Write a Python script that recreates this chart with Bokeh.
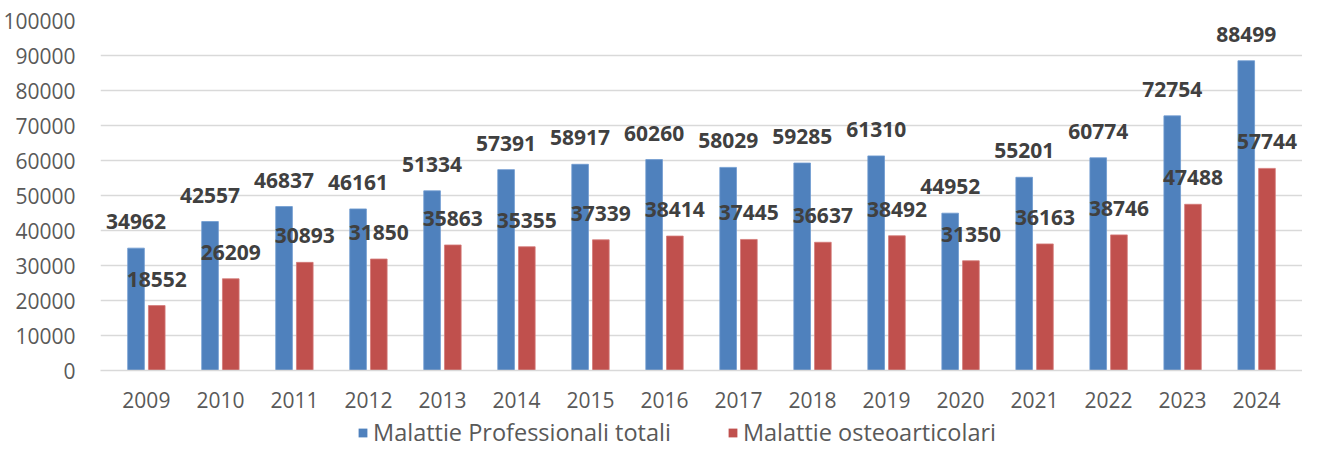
from bokeh.plotting import figure
from bokeh.layouts import column
from bokeh.models import (ColumnDataSource, FactorRange, Range1d, FixedTicker,
                          LabelSet, Legend, LegendItem, NumeralTickFormatter)
from bokeh.transform import dodge
from bokeh.core.properties import value
from bokeh.embed import file_html
from bokeh.resources import INLINE

years = ["2009", "2010", "2011", "2012", "2013", "2014", "2015", "2016",
         "2017", "2018", "2019", "2020", "2021", "2022", "2023", "2024"]
totali = [34962, 42557, 46837, 46161, 51334, 57391, 58917, 60260,
          58029, 59285, 61310, 44952, 55201, 60774, 72754, 88499]
osteo = [18552, 26209, 30893, 31850, 35863, 35355, 37339, 38414,
         37445, 36637, 38492, 31350, 36163, 38746, 47488, 57744]
y_ticks = [0, 10000, 20000, 30000, 40000, 50000, 60000, 70000, 80000, 90000, 100000]
series_names = ["Malattie Professionali totali", "Malattie osteoarticolari"]

BLUE = "#4F81BD"
RED = "#C0504D"
FONT = "Open Sans"

src = ColumnDataSource(dict(
    year=years, tot=totali, ost=osteo,
    tot_s=[str(v) for v in totali], ost_s=[str(v) for v in osteo],
))

p = figure(width=1302, height=416, output_backend="svg", toolbar_location=None,
           x_range=FactorRange(factors=years, range_padding=0.12,
                               range_padding_units="absolute"),
           y_range=Range1d(0, 100000),
           min_border_left=100, min_border_right=0, min_border_top=20,
           min_border_bottom=46)
p.outline_line_color = None
p.background_fill_color = "white"
p.border_fill_color = "white"

off = 0.14
bw = 0.225
r1 = p.vbar(x=dodge("year", -off, range=p.x_range), top="tot", width=bw,
            source=src, fill_color=BLUE, line_color="#6E9AD0", line_width=0.8)
r2 = p.vbar(x=dodge("year", off, range=p.x_range), top="ost", width=bw,
            source=src, fill_color=RED, line_color="#D47A78", line_width=0.8)

for col, txt, o in (("tot", "tot_s", -off), ("ost", "ost_s", off)):
    p.add_layout(LabelSet(x=dodge("year", o, range=p.x_range), y=col, text=txt,
                          source=src, y_offset=19, text_align="center",
                          text_baseline="alphabetic",
                          text_font=value(FONT), text_font_style="bold",
                          text_font_size="21px", text_color="#404040"))

# axes
p.yaxis.ticker = FixedTicker(ticks=y_ticks)
p.yaxis.formatter = NumeralTickFormatter(format="0")
p.yaxis.axis_line_color = None
p.yaxis.major_tick_line_color = None
p.yaxis.minor_tick_line_color = None
p.yaxis.major_label_standoff = 19
p.yaxis.major_label_text_font = FONT
p.yaxis.major_label_text_font_size = "21px"
p.yaxis.major_label_text_color = "#595959"

p.xaxis.axis_line_color = "#D9D9D9"
p.xaxis.axis_line_width = 1.5
p.xaxis.major_tick_line_color = None
p.xaxis.minor_tick_line_color = None
p.xaxis.major_label_standoff = 15
p.xaxis.major_label_text_font = FONT
p.xaxis.major_label_text_font_size = "21px"
p.xaxis.major_label_text_color = "#595959"

p.xgrid.grid_line_color = None
p.ygrid.grid_line_color = "#D9D9D9"
p.ygrid.grid_line_width = 1.5

# legend strip below the chart (its frame is aligned with the chart's frame)
lg = figure(width=1302, height=32, output_backend="svg", toolbar_location=None,
            x_range=Range1d(0, 1), y_range=Range1d(0, 1),
            x_axis_location=None, y_axis_location=None,
            min_border_left=0, min_border_right=0, min_border_top=0,
            min_border_bottom=0)
lg.outline_line_color = None
lg.grid.visible = False
lg.border_fill_color = "white"
# off-screen proxies that only give the legend its swatches
d1 = lg.rect(x=[-5], y=[-5], width=1, height=1, fill_color=BLUE, line_color=None)
d2 = lg.rect(x=[-5], y=[-5], width=1, height=1, fill_color=RED, line_color=None)

legend = Legend(items=[LegendItem(label=series_names[0], renderers=[d1]),
                       LegendItem(label=series_names[1], renderers=[d2])],
                orientation="horizontal", location=(257, 0),
                padding=0, margin=0, spacing=56,
                glyph_width=11, glyph_height=11, label_standoff=5,
                label_text_font=FONT, label_text_font_size="23.5px",
                label_text_color="#595959",
                border_line_color=None, background_fill_alpha=0)
lg.add_layout(legend, "center")

layout = column(p, lg, spacing=0)
open("out.html", "w").write(file_html(layout, INLINE))
